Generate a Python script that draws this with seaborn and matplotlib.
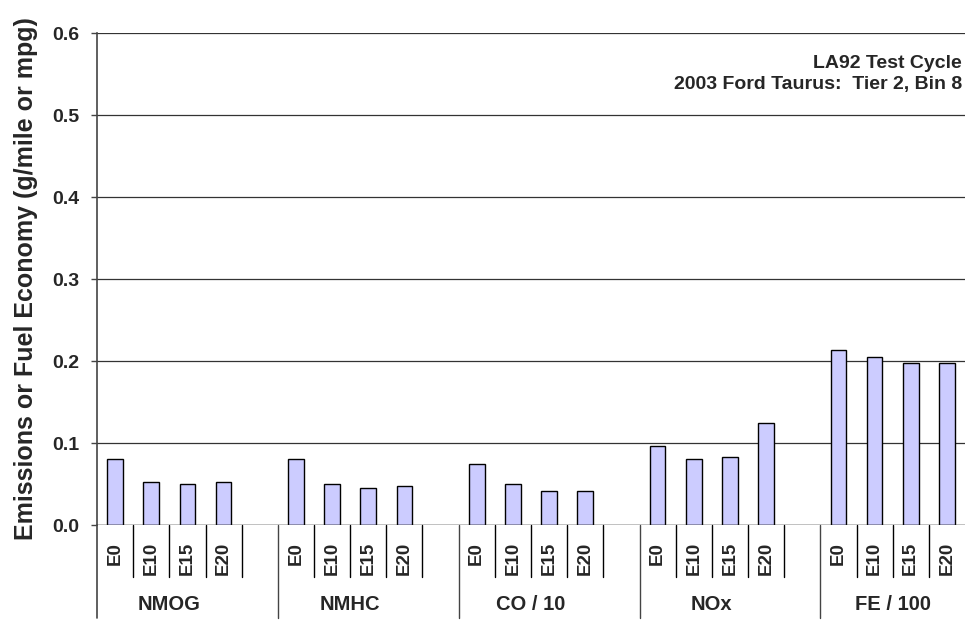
import matplotlib
matplotlib.use("Agg")
import matplotlib.pyplot as plt
import seaborn as sns
import pandas as pd
import matplotlib.transforms as mtransforms

groups = ["NMOG", "NMHC", "CO / 10", "NOx", "FE / 100"]
fuels = ["E0", "E10", "E15", "E20"]
nmog = [0.081, 0.053, 0.050, 0.053]
nmhc = [0.080, 0.050, 0.045, 0.047]
co10 = [0.075, 0.050, 0.041, 0.042]
nox = [0.096, 0.081, 0.083, 0.124]
fe100 = [0.213, 0.205, 0.198, 0.198]
series = [nmog, nmhc, co10, nox, fe100]
yticks = [0.0, 0.1, 0.2, 0.3, 0.4, 0.5, 0.6]
title_lines = ["LA92 Test Cycle", "2003 Ford Taurus:  Tier 2, Bin 8"]
ylabel = "Emissions or Fuel Economy (g/mile or mpg)"

# build category order with a blank slot after each group except the last
rows = []
order = []
for gi, (g, vals) in enumerate(zip(groups, series)):
    for f, v in zip(fuels, vals):
        key = f"{g}|{f}"
        rows.append({"cat": key, "value": v})
        order.append(key)
    if gi < len(groups) - 1:
        order.append(f"{g}|blank")
df = pd.DataFrame(rows)

sns.set_style("white")
plt.rcParams["font.family"] = ["Liberation Sans", "DejaVu Sans"]

fig = plt.figure(figsize=(9.74, 6.21), dpi=100)
ax = fig.add_axes([97 / 974, 1 - 525 / 621, 868 / 974, 492 / 621])

sns.barplot(data=df, x="cat", y="value", order=order, color="#CCCCFF",
            edgecolor="black", linewidth=1.0, width=0.43, saturation=1,
            ax=ax, zorder=3)

ax.set_ylim(0, 0.6)
ax.set_xlim(-0.5, len(order) - 0.5)
ax.set_yticks(yticks)
ax.set_yticklabels([f"{t:.1f}" for t in yticks], fontsize=14, fontweight="bold")
ax.tick_params(axis="y", length=4.5, width=1, color="#444444", pad=8, left=True)
ax.set_xticks([])
ax.set_xlabel("")
ax.set_ylabel(ylabel, fontsize=18, fontweight="bold")
ax.yaxis.set_label_coords(-0.068, 0.5)
ax.grid(axis="y", color="#333333", linewidth=0.9, zorder=0)
ax.set_axisbelow(True)

for s in ["top", "right", "bottom"]:
    ax.spines[s].set_visible(False)
ax.spines["left"].set_color("#444444")
ax.spines["left"].set_linewidth(1.2)
ax.spines["left"].set_bounds(0, 0.6)
ax.axhline(0, color="#333333", linewidth=1.0, zorder=4)

trans = mtransforms.blended_transform_factory(ax.transData, ax.transAxes)
short_y = -52 / 492
long_y = -93 / 492
# left spine extension
ax.plot([-0.5, -0.5], [0, long_y], transform=trans, color="#444444",
        linewidth=1.2, clip_on=False)
n = len(order)
for k in range(1, n):
    x = k - 0.5
    is_group = (k % 5 == 0)
    ax.plot([x, x], [0, long_y if is_group else short_y], transform=trans,
            color="#444444" if is_group else "black", linewidth=1.0, clip_on=False)

for i, key in enumerate(order):
    g, f = key.split("|")
    if f != "blank":
        ax.text(i, -17 / 492, f, transform=trans, rotation=90, ha="center",
                va="top", fontsize=13.5, fontweight="bold")

for gi, g in enumerate(groups):
    center = gi * 5 + 1.5
    ax.text(center, -79.5 / 492, g, transform=trans, ha="center", va="center",
            fontsize=14.5, fontweight="bold")

ax.text(0.9965, 0.939, title_lines[0], transform=ax.transAxes, ha="right",
        va="center", fontsize=14, fontweight="bold")
ax.text(0.9965, 0.896, title_lines[1], transform=ax.transAxes, ha="right",
        va="center", fontsize=14, fontweight="bold")

fig.savefig("out.png", dpi=100)
